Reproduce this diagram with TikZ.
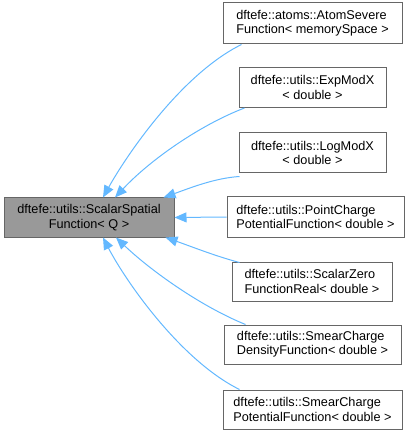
\documentclass[tikz,border=0pt]{standalone}
\usepackage{fontspec}
\setmainfont{Liberation Sans}
\usetikzlibrary{arrows.meta}
\definecolor{edgeblue}{HTML}{63B8FF}
\definecolor{boxborder}{HTML}{666666}
\definecolor{basefill}{HTML}{999999}
\begin{document}
\begin{tikzpicture}[x=1pt,y=-1pt,
  box/.style={draw=boxborder, line width=1pt, fill=white, rectangle, inner sep=0pt,
    minimum height=40pt, font=\fontsize{12.7}{14.3}\selectfont, text=black},
  basebox/.style={box, fill=basefill},
  edge/.style={draw=edgeblue, line width=1pt, -{Triangle[length=12pt,width=10pt]}}]
\useasboundingbox (0,0) rectangle (409,435);
\node[basebox, minimum width=170pt, minimum height=39pt, align=center] (base) at (89,217.5) {dftefe::utils::ScalarSpatial\\Function< Q >};
\node[box, minimum width=179pt, minimum height=41pt, align=left] (atom) at (312.5,23.5) {dftefe::atoms::AtomSevere\\Function< memorySpace >};
\node[box, minimum width=147pt, align=center] (exp) at (312.5,87.5) {dftefe::utils::ExpModX\\< double >};
\node[box, minimum width=147pt, align=center] (log) at (312.5,153) {dftefe::utils::LogModX\\< double >};
\node[box, minimum width=177pt, align=left] (point) at (315.5,217) {dftefe::utils::PointCharge\\PotentialFunction< double >};
\node[box, minimum width=160pt, minimum height=39pt, align=left] (zero) at (312,281.5) {dftefe::utils::ScalarZero\\FunctionReal< double >};
\node[box, minimum width=177pt, minimum height=39pt, align=left] (dens) at (312.5,344.5) {dftefe::utils::SmearCharge\\DensityFunction< double >};
\node[box, minimum width=179pt, minimum height=39pt, align=left] (pot) at (312.5,409.5) {dftefe::utils::SmearCharge\\PotentialFunction< double >};

\draw[edge] ([xshift=19pt]atom.south west) .. controls (180,75) and (125,158) .. ([xshift=14pt]base.north);
\draw[edge] ([xshift=6pt]exp.south west) .. controls (200,125) and (150,160) .. ([xshift=26pt]base.north);
\draw[edge] ([xshift=1pt,yshift=-3pt]log.south west) .. controls (215,178) and (190,188) .. ([xshift=-11pt]base.north east);
\draw[edge] (point.west) -- (base.east);
\draw[edge] ([xshift=8pt,yshift=-1pt]zero.north west) .. controls (215,256) and (190,246) .. ([xshift=-9pt]base.south east);
\draw[edge] ([xshift=22pt]dens.north west) .. controls (200,306) and (150,270) .. ([xshift=27pt]base.south);
\draw[edge] ([xshift=17pt]pot.north west) .. controls (180,360) and (125,280) .. ([xshift=14pt]base.south);
\end{tikzpicture}
\end{document}
